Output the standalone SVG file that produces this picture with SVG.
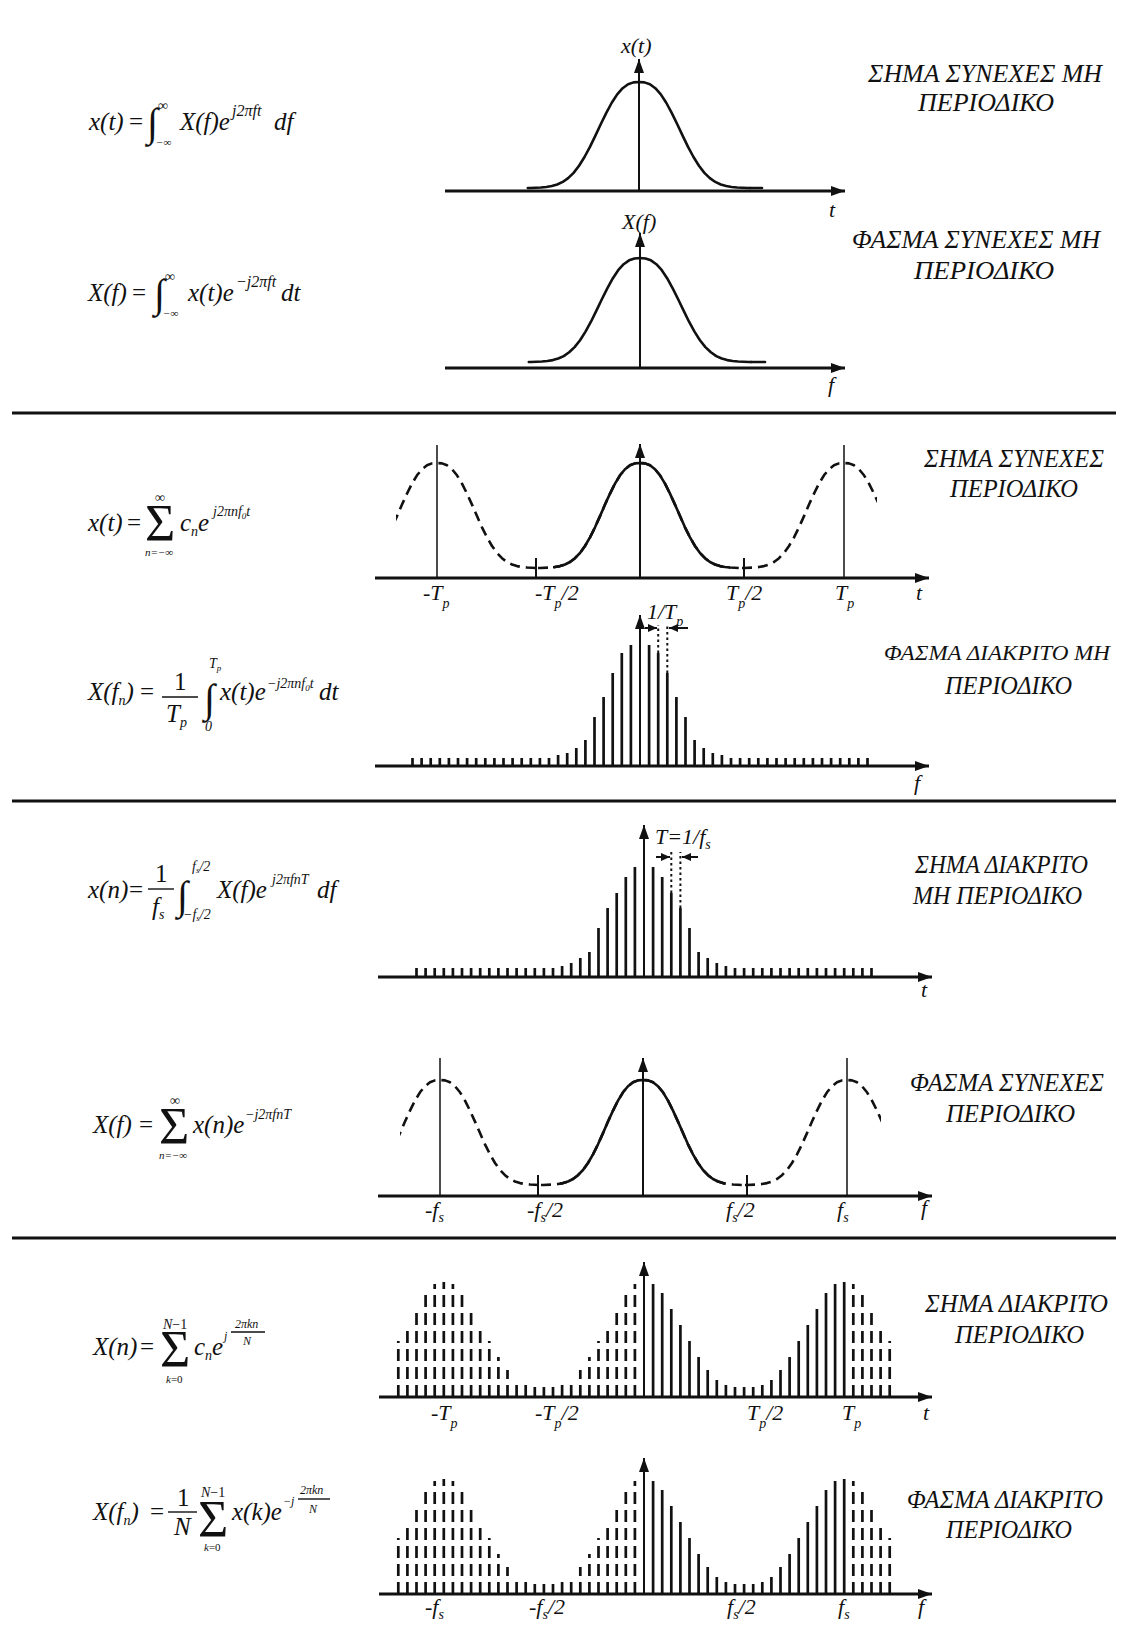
<svg xmlns="http://www.w3.org/2000/svg" xmlns:xlink="http://www.w3.org/1999/xlink" width="1123" height="1626" viewBox="0 0 1123 1626" font-family="'Liberation Serif', 'Times New Roman', 'DejaVu Serif', serif">
<defs>
<style>
.ax{stroke:#111;stroke-width:3;fill:none;marker-end:url(#ah)}
.vx{stroke:#111;stroke-width:2;fill:none;marker-end:url(#ah)}
.thin{stroke:#111;stroke-width:1.5;fill:none}
.tick{stroke:#111;stroke-width:2;fill:none}
.crv{stroke:#111;stroke-width:2.6;fill:none;stroke-linejoin:round;stroke-linecap:round}
.dsh{stroke-dasharray:10 6;stroke-linecap:butt}
.stem{stroke:#111;stroke-width:2.7;fill:none}
.dst{stroke-dasharray:12 6}
.dot{stroke:#111;stroke-width:2;stroke-dasharray:2.5 3;fill:none}
.dim{stroke:#111;stroke-width:2;fill:none;marker-end:url(#sah)}
.sep{stroke:#111;stroke-width:3}
.bar{stroke:#111;stroke-width:1.4}
text{font-family:'Liberation Serif','Times New Roman','DejaVu Serif',serif;fill:#111}
.m{font-style:italic;font-size:25px}
.u{font-style:normal}
.s{font-style:italic;font-size:14px}
.sp{font-style:italic;font-size:16px}
.x{font-style:italic;font-size:12px}
.lim{font-style:italic;font-size:11px}
.big{font-style:normal;font-size:40px}
.sig{font-style:normal;font-size:52px}
.lb{font-style:italic;font-size:22px}
.ttl{font-style:italic;font-size:25px}
</style>
<marker id="ah" markerUnits="userSpaceOnUse" markerWidth="14" markerHeight="10" refX="14" refY="5" orient="auto"><path d="M0,0L14,5L0,10z" fill="#111"/></marker>
<marker id="sah" markerUnits="userSpaceOnUse" markerWidth="9" markerHeight="8" refX="9" refY="4" orient="auto"><path d="M0,0L9,4L0,8z" fill="#111"/></marker>
<path id="bell" vector-effect="non-scaling-stroke" d="M-102,0L-100,0-90,-0.5-85,-1-80,-1.9-75,-3.5-70,-6-65,-9.8-60,-15-55,-22-50,-30.7-45,-40.7-40,-51.9-35,-63.4-30,-74.4-25,-84.4-20,-92.7-15,-98.8-10,-102.7-5,-104.6 0,-105 5,-104.6 10,-102.7 15,-98.8 20,-92.7 25,-84.4 30,-74.4 35,-63.4 40,-51.9 45,-40.7 50,-30.7 55,-22 60,-15 65,-9.8 70,-6 75,-3.5 80,-1.9 85,-1 90,-0.5 100,0 102,0"/>
<clipPath id="c3d"><rect x="396" y="430" width="481" height="150"/></clipPath>
<clipPath id="c3s"><rect x="553" y="430" width="177" height="150"/></clipPath>
<clipPath id="c5d"><rect x="400" y="1050" width="481" height="150"/></clipPath>
<clipPath id="c5s"><rect x="560" y="1050" width="165" height="150"/></clipPath>
<g id="st7">
<path class="stem" d="M653.1,0V-113M662.2,0V-104M671.3,0V-88M680.4,0V-72M689.5,0V-56M698.6,0V-40M707.7,0V-27M716.8,0V-17M725.9,0V-12M735,0V-10M744.1,0V-10M753.2,0V-10M762.3,0V-12M771.4,0V-17M780.5,0V-27M789.6,0V-40M798.7,0V-56M807.8,0V-72M816.9,0V-88M826,0V-104M835.1,0V-113M844.2,0V-115"/>
<path class="stem dst" d="M398.3,0V-56M407.4,0V-72M416.5,0V-88M425.6,0V-104M434.7,0V-113M443.8,0V-115M452.9,0V-113M462,0V-104M471.1,0V-88M480.2,0V-72M489.3,0V-56M498.4,0V-40M507.5,0V-27M516.6,0V-17M525.7,0V-12M534.8,0V-10M543.9,0V-10M553,0V-10M562.1,0V-12M571.2,0V-17M580.3,0V-27M589.4,0V-40M598.5,0V-56M607.6,0V-72M616.7,0V-88M625.8,0V-104M634.9,0V-113M853.3,0V-113M862.4,0V-104M871.5,0V-88M880.6,0V-72M889.7,0V-56"/>
</g>
</defs>
<rect width="1123" height="1626" fill="#fff"/>

<g id="separators">
<line class="sep" x1="12" y1="413" x2="1116" y2="413"/>
<line class="sep" x1="12" y1="801" x2="1116" y2="801"/>
<line class="sep" x1="12" y1="1238" x2="1116" y2="1238"/>
</g>

<!-- Section 1 -->
<g id="formula1">
<text class="m" x="89" y="130">x(t)</text>
<text class="m u" x="129" y="130">=</text>
<text class="big" x="147" y="136">∫</text>
<text class="s u" x="158" y="110">∞</text>
<text class="lim u" x="156" y="146">−∞</text>
<text class="m" x="180" y="130">X(f)e</text>
<text class="sp" x="232" y="116">j2πft</text>
<text class="m" x="274" y="130">df</text>
</g>
<g id="formula2">
<text class="m" x="88" y="301">X(f)</text>
<text class="m u" x="132" y="301">=</text>
<text class="big" x="154" y="307">∫</text>
<text class="s u" x="165" y="281">∞</text>
<text class="lim u" x="163" y="317">−∞</text>
<text class="m" x="188" y="301">x(t)e</text>
<text class="sp" x="236" y="287">−j2πft</text>
<text class="m" x="281" y="301">dt</text>
</g>
<g id="panel1">
<use xlink:href="#bell" href="#bell" class="crv" transform="translate(639,188) scale(1.09,1.01)"/>
<line class="crv" x1="750" y1="188" x2="762" y2="188"/>
<line class="ax" x1="445" y1="191" x2="845" y2="191"/>
<line class="vx" x1="639" y1="191" x2="639" y2="59"/>
<text class="lb" x="621" y="53">x(t)</text>
<text class="lb" x="829" y="217">t</text>
</g>
<g id="panel2">
<use xlink:href="#bell" href="#bell" class="crv" transform="translate(640,362) scale(1.09,0.99)"/>
<line class="crv" x1="751" y1="362" x2="765" y2="362"/>
<line class="ax" x1="445" y1="368" x2="845" y2="368"/>
<line class="vx" x1="640" y1="368" x2="640" y2="233"/>
<text class="lb" x="622" y="229">X(f)</text>
<text class="lb" x="828" y="392">f</text>
</g>
<g id="title1">
<text class="ttl" x="868" y="82" textLength="234" lengthAdjust="spacingAndGlyphs">ΣΗΜΑ ΣΥΝΕΧΕΣ ΜΗ</text>
<text class="ttl" x="918" y="111" textLength="136" lengthAdjust="spacingAndGlyphs">ΠΕΡΙΟΔΙΚΟ</text>
</g>
<g id="title2">
<text class="ttl" x="852" y="248" textLength="248" lengthAdjust="spacingAndGlyphs">ΦΑΣΜΑ ΣΥΝΕΧΕΣ ΜΗ</text>
<text class="ttl" x="914" y="279" textLength="140" lengthAdjust="spacingAndGlyphs">ΠΕΡΙΟΔΙΚΟ</text>
</g>

<!-- Section 2 -->
<g id="formula3">
<text class="m" x="88" y="531">x(t)</text>
<text class="m u" x="127" y="531">=</text>
<text class="sig" x="145" y="541">Σ</text>
<text class="s u" x="155" y="502">∞</text>
<text class="lim" x="145" y="556">n=−∞</text>
<text class="m" x="180" y="531">c<tspan class="s" dy="5">n</tspan><tspan dy="-5">e</tspan></text>
<text class="s" x="213" y="516">j2πnf<tspan font-size="9" dy="3">0</tspan><tspan dy="-3">t</tspan></text>
</g>
<g id="formula4">
<text class="m" x="88" y="700">X(f<tspan class="s" dy="5">n</tspan><tspan dy="-5">)</tspan></text>
<text class="m u" x="140" y="700">=</text>
<text class="m u" x="174" y="690">1</text>
<line class="bar" x1="162" y1="697" x2="198" y2="697"/>
<text class="m" x="166" y="722">T<tspan class="s" dy="5">p</tspan></text>
<text class="big" x="204" y="712">∫</text>
<text class="s" x="209" y="668">T<tspan font-size="9" dy="3">p</tspan></text>
<text class="s u" x="205" y="731">0</text>
<text class="m" x="220" y="700">x(t)e</text>
<text class="s" x="267" y="688">−j2πnf<tspan font-size="9" dy="3">0</tspan><tspan dy="-3">t</tspan></text>
<text class="m" x="319" y="700">dt</text>
</g>
<g id="panel3">
<line class="thin" x1="437" y1="445" x2="437" y2="578"/>
<line class="thin" x1="844" y1="445" x2="844" y2="578"/>
<g clip-path="url(#c3d)">
<use xlink:href="#bell" href="#bell" class="crv dsh" x="437" y="568"/>
<use xlink:href="#bell" href="#bell" class="crv dsh" x="640" y="568"/>
<use xlink:href="#bell" href="#bell" class="crv dsh" x="844" y="568"/>
</g>
<g clip-path="url(#c3s)"><use xlink:href="#bell" href="#bell" class="crv" x="640" y="568"/></g>
<path class="tick" d="M536,558V578M744,558V578"/>
<line class="ax" x1="375" y1="578" x2="929" y2="578"/>
<line class="vx" x1="640" y1="578" x2="640" y2="444"/>
<text class="lb" x="423" y="600">-T<tspan class="s" dy="8">p</tspan></text>
<text class="lb" x="535" y="600">-T<tspan class="s" dy="8">p</tspan><tspan dy="-8">/2</tspan></text>
<text class="lb" x="726" y="600">T<tspan class="s" dy="8">p</tspan><tspan dy="-8">/2</tspan></text>
<text class="lb" x="835" y="600">T<tspan class="s" dy="8">p</tspan></text>
<text class="lb" x="916" y="600">t</text>
</g>
<g id="panel4">
<path class="stem" d="M412.5,766V758M421.6,766V758M430.7,766V758M439.8,766V758M448.9,766V758M458,766V758M467.1,766V758M476.2,766V758M485.3,766V758M494.4,766V758M503.5,766V758M512.6,766V758M521.7,766V758M530.8,766V758M539.9,766V758M549,766V758M558.1,766V755M567.2,766V753M576.3,766V748M585.4,766V740M594.5,766V717M603.6,766V697M612.7,766V673M621.8,766V653M630.9,766V645M649.1,766V645M658.2,766V653M667.3,766V673M676.4,766V697M685.5,766V717M694.6,766V740M703.7,766V748M712.8,766V753M721.9,766V755M731,766V758M740.1,766V758M749.2,766V758M758.3,766V758M767.4,766V758M776.5,766V758M785.6,766V758M794.7,766V758M803.8,766V758M812.9,766V758M822,766V758M831.1,766V758M840.2,766V758M849.3,766V758M858.4,766V758M867.5,766V758"/>
<path class="dot" d="M658.2,653V625M667.3,673V625"/>
<line class="dim" x1="645" y1="628" x2="657" y2="628"/>
<line class="dim" x1="688" y1="628" x2="669" y2="628"/>
<line class="ax" x1="375" y1="766" x2="929" y2="766"/>
<line class="vx" x1="640" y1="766" x2="640" y2="615"/>
<text class="lb" x="647" y="619">1/T<tspan class="s" dy="7">p</tspan></text>
<text class="lb" x="914" y="790">f</text>
</g>
<g id="title3">
<text class="ttl" x="924" y="467" textLength="180" lengthAdjust="spacingAndGlyphs">ΣΗΜΑ ΣΥΝΕΧΕΣ</text>
<text class="ttl" x="950" y="497" textLength="128" lengthAdjust="spacingAndGlyphs">ΠΕΡΙΟΔΙΚΟ</text>
</g>
<g id="title4">
<text class="ttl" x="884" y="660" font-size="22" textLength="226" lengthAdjust="spacingAndGlyphs" style="font-size:22px">ΦΑΣΜΑ ΔΙΑΚΡΙΤΟ ΜΗ</text>
<text class="ttl" x="945" y="694" textLength="127" lengthAdjust="spacingAndGlyphs">ΠΕΡΙΟΔΙΚΟ</text>
</g>

<!-- Section 3 -->
<g id="formula5">
<text class="m" x="88" y="898">x(n)</text>
<text class="m u" x="129" y="898">=</text>
<text class="m u" x="155" y="882">1</text>
<line class="bar" x1="148" y1="889" x2="174" y2="889"/>
<text class="m" x="152" y="915">f<tspan class="s" dy="4">s</tspan></text>
<text class="big" x="177" y="909">∫</text>
<text class="s" x="192" y="871">f<tspan font-size="9" dy="2">s</tspan><tspan dy="-2">/2</tspan></text>
<text class="s" x="183" y="919">−f<tspan font-size="9" dy="2">s</tspan><tspan dy="-2">/2</tspan></text>
<text class="m" x="217" y="898">X(f)e</text>
<text class="s" x="272" y="884">j2πfnT</text>
<text class="m" x="317" y="898">df</text>
</g>
<g id="formula6">
<text class="m" x="93" y="1133">X(f)</text>
<text class="m u" x="139" y="1133">=</text>
<text class="sig" x="159" y="1144">Σ</text>
<text class="s u" x="170" y="1105">∞</text>
<text class="lim" x="159" y="1159">n=−∞</text>
<text class="m" x="193" y="1133">x(n)e</text>
<text class="s" x="245" y="1119">−j2πfnT</text>
</g>
<g id="panel5">
<path class="stem" d="M416.5,977V968M425.6,977V968M434.7,977V968M443.8,977V968M452.9,977V968M462,977V968M471.1,977V968M480.2,977V968M489.3,977V968M498.4,977V968M507.5,977V968M516.6,977V968M525.7,977V968M534.8,977V968M543.9,977V968M553,977V968M562.1,977V966M571.2,977V963M580.3,977V958M589.4,977V952M598.5,977V928M607.6,977V908M616.7,977V893M625.8,977V877M634.9,977V867M653.1,977V867M662.2,977V877M671.3,977V893M680.4,977V908M689.5,977V928M698.6,977V952M707.7,977V958M716.8,977V963M725.9,977V966M735,977V968M744.1,977V968M753.2,977V968M762.3,977V968M771.4,977V968M780.5,977V968M789.6,977V968M798.7,977V968M807.8,977V968M816.9,977V968M826,977V968M835.1,977V968M844.2,977V968M853.3,977V968M862.4,977V968M871.5,977V968"/>
<path class="dot" d="M671.3,893V852M680.4,908V852"/>
<line class="dim" x1="656" y1="857" x2="670" y2="857"/>
<line class="dim" x1="698" y1="857" x2="682" y2="857"/>
<line class="ax" x1="378" y1="977" x2="932" y2="977"/>
<line class="vx" x1="644" y1="977" x2="644" y2="825"/>
<text class="lb" x="655" y="844">T=1/f<tspan class="s" dy="5">s</tspan></text>
<text class="lb" x="921" y="997">t</text>
</g>
<g id="panel6">
<line class="thin" x1="440" y1="1058" x2="440" y2="1196"/>
<line class="thin" x1="847" y1="1058" x2="847" y2="1196"/>
<g clip-path="url(#c5d)">
<use xlink:href="#bell" href="#bell" class="crv dsh" x="440" y="1185"/>
<use xlink:href="#bell" href="#bell" class="crv dsh" x="643" y="1185"/>
<use xlink:href="#bell" href="#bell" class="crv dsh" x="847" y="1185"/>
</g>
<g clip-path="url(#c5s)"><use xlink:href="#bell" href="#bell" class="crv" x="643" y="1185"/></g>
<path class="tick" d="M538,1175V1196M747,1175V1196"/>
<line class="ax" x1="378" y1="1196" x2="932" y2="1196"/>
<line class="vx" x1="643" y1="1196" x2="643" y2="1058"/>
<text class="lb" x="425" y="1217">-f<tspan class="s" dy="5">s</tspan></text>
<text class="lb" x="527" y="1217">-f<tspan class="s" dy="5">s</tspan><tspan dy="-5">/2</tspan></text>
<text class="lb" x="726" y="1217">f<tspan class="s" dy="5">s</tspan><tspan dy="-5">/2</tspan></text>
<text class="lb" x="837" y="1217">f<tspan class="s" dy="5">s</tspan></text>
<text class="lb" x="921" y="1215">f</text>
</g>
<g id="title5">
<text class="ttl" x="915" y="873" textLength="173" lengthAdjust="spacingAndGlyphs">ΣΗΜΑ ΔΙΑΚΡΙΤΟ</text>
<text class="ttl" x="913" y="904" textLength="169" lengthAdjust="spacingAndGlyphs">ΜΗ ΠΕΡΙΟΔΙΚΟ</text>
</g>
<g id="title6">
<text class="ttl" x="910" y="1091" textLength="194" lengthAdjust="spacingAndGlyphs">ΦΑΣΜΑ ΣΥΝΕΧΕΣ</text>
<text class="ttl" x="946" y="1122" textLength="129" lengthAdjust="spacingAndGlyphs">ΠΕΡΙΟΔΙΚΟ</text>
</g>

<!-- Section 4 -->
<g id="formula7">
<text class="m" x="93" y="1355">X(n)</text>
<text class="m u" x="140" y="1355">=</text>
<text class="sig" x="160" y="1367">Σ</text>
<text class="s" x="163" y="1329">N<tspan class="u">−1</tspan></text>
<text class="lim" x="166" y="1383">k<tspan class="u">=0</tspan></text>
<text class="m" x="194" y="1355">c<tspan class="s" dy="5">n</tspan><tspan dy="-5">e</tspan></text>
<text class="x" x="224" y="1340">j</text>
<text class="x" x="235" y="1328">2πkn</text>
<line class="bar" x1="231" y1="1332" x2="265" y2="1332" stroke-width="1"/>
<text class="x" x="243" y="1345">N</text>
</g>
<g id="formula8">
<text class="m" x="93" y="1520">X(f<tspan class="s" dy="5">n</tspan><tspan dy="-5">)</tspan></text>
<text class="m u" x="150" y="1520">=</text>
<text class="m u" x="177" y="1506">1</text>
<line class="bar" x1="168" y1="1512" x2="197" y2="1512"/>
<text class="m" x="174" y="1535">N</text>
<text class="sig" x="198" y="1537">Σ</text>
<text class="s" x="201" y="1497">N<tspan class="u">−1</tspan></text>
<text class="lim" x="204" y="1551">k<tspan class="u">=0</tspan></text>
<text class="m" x="232" y="1520">x(k)e</text>
<text class="x" x="283" y="1505">−j</text>
<text class="x" x="300" y="1494">2πkn</text>
<line class="bar" x1="298" y1="1499" x2="330" y2="1499" stroke-width="1"/>
<text class="x" x="309" y="1513">N</text>
</g>
<g id="panel7">
<use xlink:href="#st7" href="#st7" y="1397"/>
<line class="ax" x1="379" y1="1397" x2="932" y2="1397"/>
<line class="vx" x1="644" y1="1397" x2="644" y2="1262"/>
<text class="lb" x="431" y="1420">-T<tspan class="s" dy="8">p</tspan></text>
<text class="lb" x="535" y="1420">-T<tspan class="s" dy="8">p</tspan><tspan dy="-8">/2</tspan></text>
<text class="lb" x="747" y="1420">T<tspan class="s" dy="8">p</tspan><tspan dy="-8">/2</tspan></text>
<text class="lb" x="842" y="1420">T<tspan class="s" dy="8">p</tspan></text>
<text class="lb" x="923" y="1420">t</text>
</g>
<g id="panel8">
<use xlink:href="#st7" href="#st7" y="1594"/>
<line class="ax" x1="379" y1="1594" x2="932" y2="1594"/>
<line class="vx" x1="644" y1="1594" x2="644" y2="1458"/>
<text class="lb" x="425" y="1614">-f<tspan class="s" dy="5">s</tspan></text>
<text class="lb" x="529" y="1614">-f<tspan class="s" dy="5">s</tspan><tspan dy="-5">/2</tspan></text>
<text class="lb" x="727" y="1614">f<tspan class="s" dy="5">s</tspan><tspan dy="-5">/2</tspan></text>
<text class="lb" x="838" y="1614">f<tspan class="s" dy="5">s</tspan></text>
<text class="lb" x="918" y="1614">f</text>
</g>
<g id="title7">
<text class="ttl" x="925" y="1312" textLength="183" lengthAdjust="spacingAndGlyphs">ΣΗΜΑ ΔΙΑΚΡΙΤΟ</text>
<text class="ttl" x="955" y="1343" textLength="129" lengthAdjust="spacingAndGlyphs">ΠΕΡΙΟΔΙΚΟ</text>
</g>
<g id="title8">
<text class="ttl" x="907" y="1508" textLength="196" lengthAdjust="spacingAndGlyphs">ΦΑΣΜΑ ΔΙΑΚΡΙΤΟ</text>
<text class="ttl" x="946" y="1538" textLength="126" lengthAdjust="spacingAndGlyphs">ΠΕΡΙΟΔΙΚΟ</text>
</g>
</svg>
